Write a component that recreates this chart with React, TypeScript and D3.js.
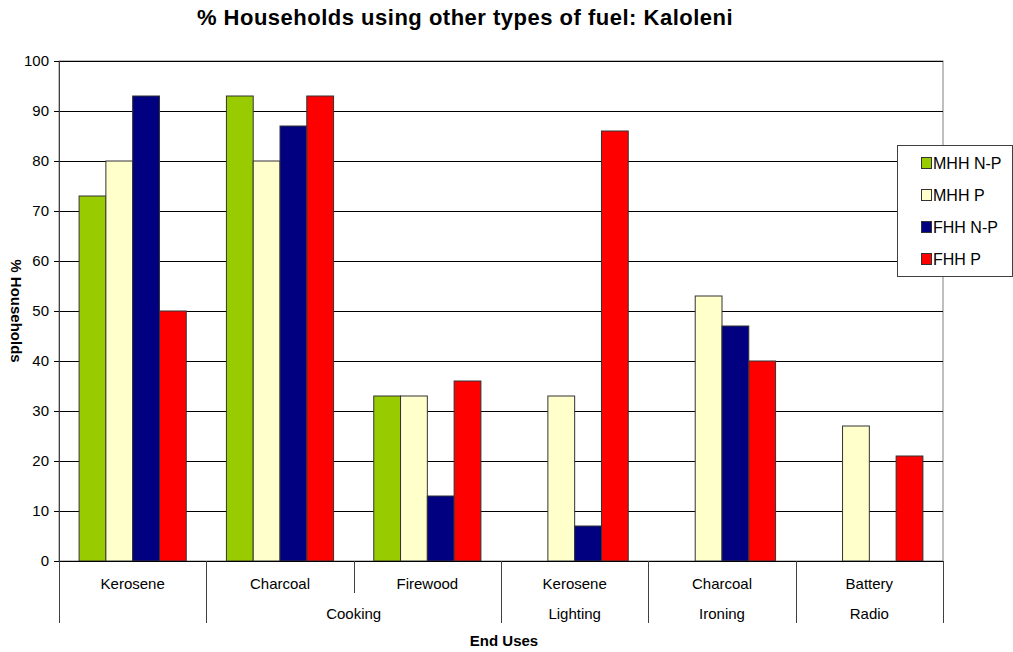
import React from "react";
import * as d3 from "d3";

// Level-1 categories (fuel) and level-2 groups (end use)
const fuels = ["Kerosene", "Charcoal", "Firewood", "Kerosene", "Charcoal", "Battery"];
const endUses = [
  { label: "", from: 0, to: 0 },
  { label: "Cooking", from: 1, to: 2 },
  { label: "Lighting", from: 3, to: 3 },
  { label: "Ironing", from: 4, to: 4 },
  { label: "Radio", from: 5, to: 5 },
];
const seriesNames = ["MHH N-P", "MHH P", "FHH N-P", "FHH P"];
const seriesColors = ["#99CC00", "#FFFFCC", "#000080", "#FF0000"];

const mhhNP: (number | null)[] = [73, 93, 33, null, null, null];
const mhhP: (number | null)[] = [80, 80, 33, 33, 53, 27];
const fhhNP: (number | null)[] = [93, 87, 13, 7, 47, null];
const fhhP: (number | null)[] = [50, 93, 36, 86, 40, 21];
const seriesValues = [mhhNP, mhhP, fhhNP, fhhP];

const yTicks = [0, 10, 20, 30, 40, 50, 60, 70, 80, 90, 100];

const W = 1013;
const H = 652;
const plot = { left: 59, right: 943, top: 61, bottom: 561 };
const font = "'Liberation Sans', Arial, sans-serif";

export default function App() {
  const idx = fuels.map((_, i) => i);
  const x = d3
    .scaleBand<number>()
    .domain(idx)
    .range([plot.left, plot.right])
    .padding(0);
  const inner = d3
    .scaleBand<number>()
    .domain(seriesNames.map((_, i) => i))
    .range([0, x.bandwidth()])
    .paddingInner(0)
    .paddingOuter(0.75);
  const y = d3.scaleLinear().domain([0, 100]).range([plot.bottom, plot.top]);

  const level1Bottom = 593;
  const level2Bottom = 623;
  // dividers at the edges of an end-use group run down through both label rows
  const longEdges = new Set<number>();
  endUses.forEach((g) => {
    longEdges.add(g.from);
    longEdges.add(g.to + 1);
  });

  return (
    <svg
      width={W}
      height={H}
      style={{ position: "absolute", left: 0, top: 0, background: "#fff" }}
      fontFamily={font}
    >
      <rect x={0} y={0} width={W} height={H} fill="#fff" />
      <text
        x={465}
        y={25}
        textAnchor="middle"
        fontSize={22}
        fontWeight="bold"
        letterSpacing={0.5}
        fill="#000"
      >
        % Households using other types of fuel: Kaloleni
      </text>

      {/* plot frame */}
      <rect
        x={plot.left}
        y={plot.top}
        width={plot.right - plot.left}
        height={plot.bottom - plot.top}
        fill="#fff"
        stroke="#808080"
        strokeWidth={1}
      />

      {/* gridlines */}
      {yTicks.map((t) => (
        <line
          key={"g" + t}
          x1={plot.left}
          x2={plot.right}
          y1={Math.round(y(t)) + 0.5}
          y2={Math.round(y(t)) + 0.5}
          stroke="#000"
          strokeWidth={1}
        />
      ))}

      {/* bars */}
      {seriesValues.map((vals, s) =>
        vals.map((v, i) =>
          v == null ? null : (
            <rect
              key={`b${s}-${i}`}
              x={(x(i) as number) + (inner(s) as number)}
              y={y(v)}
              width={inner.bandwidth()}
              height={y(0) - y(v)}
              fill={seriesColors[s]}
              stroke="#333"
              strokeWidth={1}
            />
          )
        )
      )}

      {/* y axis */}
      <line x1={plot.left + 0.5} x2={plot.left + 0.5} y1={plot.top} y2={plot.bottom} stroke="#404040" strokeWidth={1} />
      {yTicks.map((t) => (
        <g key={"t" + t}>
          <line
            x1={plot.left - 5}
            x2={plot.left}
            y1={Math.round(y(t)) + 0.5}
            y2={Math.round(y(t)) + 0.5}
            stroke="#000"
          />
          <text
            x={49}
            y={y(t)}
            dy="0.36em"
            textAnchor="end"
            fontSize={15}
            fill="#000"
          >
            {t}
          </text>
        </g>
      ))}
      <text
        transform={`translate(11,${(plot.top + plot.bottom) / 2}) rotate(90)`}
        textAnchor="middle"
        fontSize={15}
        fontWeight="bold"
        fill="#000"
      >
        % Households
      </text>

      {/* x axis, two levels */}
      <line x1={plot.left} x2={plot.right} y1={plot.bottom + 0.5} y2={plot.bottom + 0.5} stroke="#000" />
      {d3.range(fuels.length + 1).map((e) => {
        const xe = e < fuels.length ? (x(e) as number) : plot.right;
        return (
          <line
            key={"d" + e}
            x1={Math.round(xe) + 0.5}
            x2={Math.round(xe) + 0.5}
            y1={plot.bottom}
            y2={longEdges.has(e) ? level2Bottom : level1Bottom}
            stroke="#404040"
          />
        );
      })}
      {fuels.map((f, i) => (
        <text
          key={"f" + i}
          x={(x(i) as number) + x.bandwidth() / 2}
          y={589}
          textAnchor="middle"
          fontSize={15}
          fill="#000"
        >
          {f}
        </text>
      ))}
      {endUses.map((g, i) => (
        <text
          key={"e" + i}
          x={((x(g.from) as number) + (x(g.to) as number) + x.bandwidth()) / 2}
          y={619}
          textAnchor="middle"
          fontSize={15}
          fill="#000"
        >
          {g.label}
        </text>
      ))}
      <text x={504} y={646} textAnchor="middle" fontSize={15} fontWeight="bold" fill="#000">
        End Uses
      </text>

      {/* legend */}
      <rect x={897.5} y={145.5} width={115} height={131} fill="#fff" stroke="#404040" strokeWidth={1} />
      {seriesNames.map((n, i) => {
        const cy = 163 + i * 32;
        return (
          <g key={"l" + i}>
            <rect x={921.5} y={cy - 5.5} width={10} height={11} fill={seriesColors[i]} stroke="#333" />
            <text x={933} y={cy} dy="0.36em" fontSize={16} fill="#000">
              {n}
            </text>
          </g>
        );
      })}
    </svg>
  );
}
